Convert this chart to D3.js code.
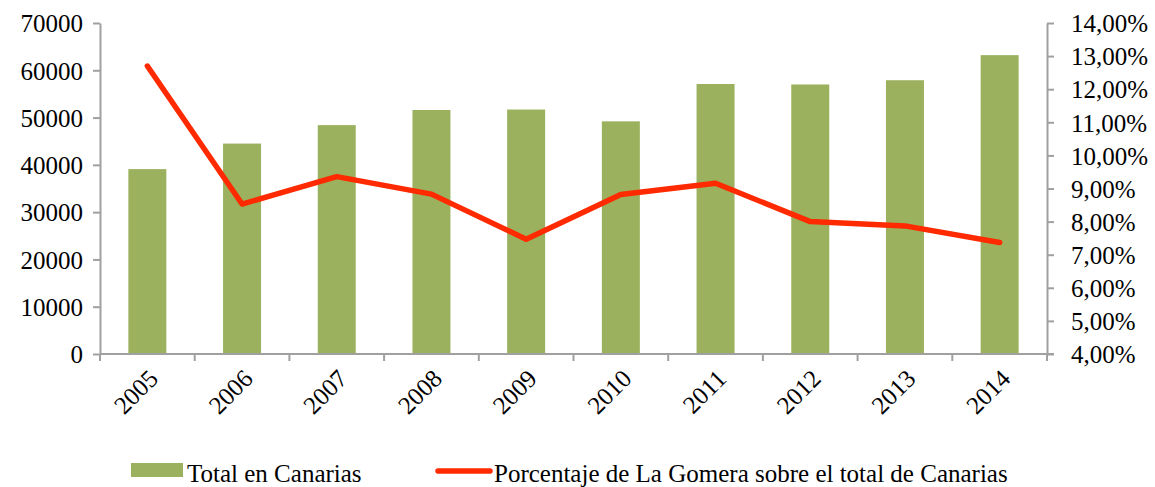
<!DOCTYPE html>
<html>
<head>
<meta charset="utf-8">
<script src="https://cdn.jsdelivr.net/npm/d3@7"></script>
<style>
  html, body { margin: 0; padding: 0; background: #fff; }
  svg { display: block; }
  svg text { font-family: "Liberation Serif", "Times New Roman", Times, "DejaVu Serif", serif !important; fill: #000; }
</style>
</head>
<body>
<svg id="chart" width="1155" height="487"></svg>
<script>
const years = ["2005","2006","2007","2008","2009","2010","2011","2012","2013","2014"];
const totalCanarias = [39100, 44500, 48400, 51600, 51700, 49200, 57100, 57000, 57900, 63200];
const porcentajeGomera = [12.70, 8.53, 9.36, 8.83, 7.47, 8.82, 9.16, 8.00, 7.87, 7.37];
const leftTicks = [0, 10000, 20000, 30000, 40000, 50000, 60000, 70000];
const rightTicks = [4, 5, 6, 7, 8, 9, 10, 11, 12, 13, 14];
const seriesNames = ["Total en Canarias", "Porcentaje de La Gomera sobre el total de Canarias"];

const svg = d3.select("#chart");
const m = { left: 100, right: 1047, top: 23, bottom: 354 };
const axisColor = "#a0a0a0";
const fontSize = 25;

const xb = d3.scaleBand().domain(years).range([m.left, m.right]).padding(0);
const yL = d3.scaleLinear().domain([0, 70000]).range([m.bottom, m.top]);
const yR = d3.scaleLinear().domain([4, 14]).range([m.bottom, m.top]);

// bars
svg.append("g").selectAll("rect").data(years).join("rect")
  .attr("x", d => xb(d) + xb.bandwidth() / 2 - 19)
  .attr("width", 38)
  .attr("y", (d, i) => yL(totalCanarias[i]))
  .attr("height", (d, i) => m.bottom - yL(totalCanarias[i]))
  .attr("fill", "#9bb15e");

// left axis
const gL = svg.append("g").attr("transform", `translate(${m.left},0)`)
  .call(d3.axisLeft(yL).tickValues(leftTicks).tickSize(7).tickSizeOuter(0).tickPadding(10).tickFormat(d3.format("d")));
gL.attr("font-family", null);
gL.selectAll("path, line").attr("stroke", axisColor).attr("stroke-width", 2);
gL.selectAll("text").style("font-size", fontSize + "px").attr("fill", "#000").attr("dy", "0.35em");

// right axis
const fmtPct = d => d.toFixed(2).replace(".", ",") + "%";
const gR = svg.append("g").attr("transform", `translate(${m.right},0)`)
  .call(d3.axisRight(yR).tickValues(rightTicks).tickSize(7).tickSizeOuter(0).tickPadding(17).tickFormat(fmtPct));
gR.attr("font-family", null);
gR.selectAll("path, line").attr("stroke", axisColor).attr("stroke-width", 2);
gR.selectAll("text").style("font-size", fontSize + "px").attr("fill", "#000").attr("dy", "0.35em");

// bottom axis (ticks at category boundaries)
const gB = svg.append("g").attr("transform", `translate(0,${m.bottom})`);
gB.append("line").attr("x1", m.left).attr("x2", m.right + 7).attr("stroke", axisColor).attr("stroke-width", 2);
gB.selectAll("line.tk").data(years.concat(["end"])).join("line").attr("class", "tk")
  .attr("x1", (d, i) => i < years.length ? xb(d) : m.right)
  .attr("x2", (d, i) => i < years.length ? xb(d) : m.right)
  .attr("y1", 0).attr("y2", 7)
  .attr("stroke", axisColor).attr("stroke-width", 2);
gB.selectAll("text").data(years).join("text")
  .attr("transform", d => `translate(${xb(d) + xb.bandwidth() / 2 + 6},${20}) rotate(-45)`)
  .attr("text-anchor", "end")
  .attr("dy", "0.35em")
  .style("font-size", fontSize + "px")
  .text(d => d);

// line
const line = d3.line().x((d, i) => xb(years[i]) + xb.bandwidth() / 2).y(d => yR(d));
svg.append("path").datum(porcentajeGomera)
  .attr("d", line)
  .attr("fill", "none")
  .attr("stroke", "#ff2a00")
  .attr("stroke-width", 5.5)
  .attr("stroke-linejoin", "round")
  .attr("stroke-linecap", "round");

// legend
const lg = svg.append("g");
lg.append("rect").attr("x", 131).attr("y", 463).attr("width", 52).attr("height", 14).attr("fill", "#9bb15e");
lg.append("text").attr("x", 187).attr("y", 482).style("font-size", fontSize + "px").text(seriesNames[0]);
lg.append("line").attr("x1", 438).attr("x2", 490).attr("y1", 471).attr("y2", 471)
  .attr("stroke", "#ff2a00").attr("stroke-width", 5.5).attr("stroke-linecap", "round");
lg.append("text").attr("x", 494).attr("y", 482).style("font-size", fontSize + "px").text(seriesNames[1]);
</script>
</body>
</html>
